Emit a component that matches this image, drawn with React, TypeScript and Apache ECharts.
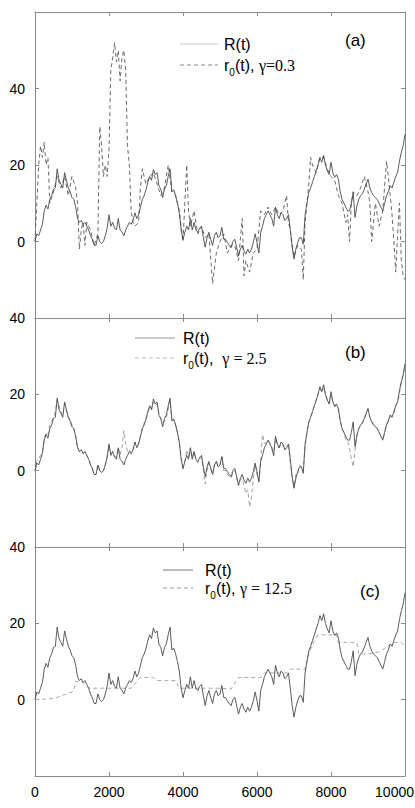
import React, { useEffect, useRef } from "react";
import * as echarts from "echarts";

// x grid for R(t) and r0(t) with gamma = 2.5 (t = 0, 50, ..., 10000)
const tGrid: number[] = Array.from({ length: 201 }, (_, i) => i * 50);

const R: number[] = [
  0, 2, 1.5, 3, 4.5, 8, 9.5, 8.5, 11, 12,
  13.7, 14, 19, 16, 15, 14, 18, 16, 14, 13,
  11.5, 11, 9, 6, 5, 5.5, 4.5, 5, 4, 3,
  1.5, 0.5, -1, -1, 1.5, 0, -0.5, 0, 1.5, 3.5,
  7, 4, 5, 3.5, 3, 6, 3, 2.5, 1.5, 3,
  4, 5, 4.5, 5.5, 7.5, 6, 7, 9, 11, 12,
  13.5, 15.5, 17, 16, 18.8, 17.5, 18, 14.5, 13.7, 11.5,
  13.7, 14.6, 17, 19, 13, 13.5, 12, 10, 7.5, 3,
  0.5, 2.4, 4, 3, 6, 3, 5, 3, 2.4, 3.5,
  4, 1, -1.5, 1, 2.4, 0.5, -1, 1.5, 2.4, 1,
  1.5, 3.7, 0.6, 0.5, -0.3, -1, -1.6, 0, 0.6, -1.5,
  -3.8, -2, -1, -2.5, -3.3, -2, -3, -2, -0.3, 2,
  -0.3, -3, 2.4, 4, 6, 7, 8, 7, 6, 4,
  9, 7, 6, 7.5, 7, 5.5, 6, 7, 3, -1.5,
  -4.6, -2, -0.3, 1, 1, -0.7, 7, 10, 12.8, 14,
  15.5, 17, 18.5, 20, 22, 20.7, 22.5, 20, 18.5, 17.5,
  20.7, 18, 16.8, 17.5, 16.3, 13, 11, 10, 9, 8,
  8, 10, 12.8, 6.3, 9.3, 11, 12, 12.5, 13.7, 15,
  16.3, 14, 12.8, 12, 11.5, 11, 10, 9, 8, 10,
  12, 13, 14.6, 14, 15.5, 17, 18, 21, 23.3, 25,
  28,
];

const r0B: number[] = [
  0, 2.5, 3, 4, 5, 8.5, 10, 9.5, 12, 13,
  14, 15.5, 18.5, 17, 15.5, 14.5, 17.5, 15.5, 14, 13.5,
  12, 11, 9, 6, 5, 5, 4.5, 5, 4, 3,
  1.5, 0.5, -1, -1, 1.5, 0, -0.5, 0, 1.5, 3.5,
  6.5, 4.5, 5, 4, 3.5, 6, 4, 6, 10.5, 7,
  5, 5.5, 4.5, 5.5, 7.5, 6.5, 7, 9, 11, 12.5,
  13.5, 15, 16.5, 16, 18, 17, 17.5, 15, 13.5, 12.5,
  13, 14, 16, 18.5, 13.5, 13, 12, 10, 7.5, 3.5,
  1, 2.4, 5.5, 3.5, 6, 3.5, 5, 3, 2, 3,
  3.5, 0, -3.5, 0, 2, 0.5, -1, 1.5, 2.5, 1,
  1.5, 3.5, 0, 0, -1, -1.5, -2, -0.5, 0, -2,
  -4, -2.5, -2, -4, -6, -5, -9.5, -7, -2, 1.5,
  -1, -2.5, 3, 9.5, 7, 7.5, 8, 7, 6, 4,
  8.5, 7, 6, 7.5, 7, 5.5, 6, 6.5, 2, -2,
  -4, -1, -1, 1.5, 1, 0, 6.5, 10, 12.5, 14,
  15.5, 17, 18.5, 20, 21.5, 20.5, 22, 20, 18.5, 17.5,
  20, 18, 17, 17, 16, 13, 11, 10, 8, 7.5,
  6, 3, 1, 5.5, 9, 11, 12, 12.5, 13.5, 15,
  16, 14, 13, 12, 11.5, 11, 10, 9, 8.5, 10,
  12, 13, 14, 14.5, 15, 17, 18, 20.5, 23, 25,
  28,
];

// r0(t), gamma = 0.3
const tA: number[] = [
  0, 100, 150, 200, 250, 300, 350, 400, 500, 600, 700, 800, 900, 1000, 1100, 1150,
  1200, 1250, 1300, 1350, 1400, 1500, 1600, 1700, 1750, 1800, 1850, 1900, 1950, 2000,
  2050, 2100, 2150, 2200, 2250, 2300, 2350, 2400, 2450, 2500, 2550, 2600, 2650, 2700,
  2800, 2850, 2900, 3000, 3100, 3200, 3300, 3400, 3500, 3600, 3700, 3800, 3900, 4000,
  4100, 4150, 4200, 4300, 4400, 4500, 4600, 4700, 4800, 4900, 5000, 5100, 5200, 5300,
  5400, 5500, 5600, 5650, 5700, 5800, 5900, 6000, 6050, 6100, 6200, 6300, 6400, 6500,
  6600, 6700, 6800, 6850, 6900, 7000, 7100, 7200, 7250, 7300, 7400, 7450, 7500, 7600,
  7700, 7800, 7900, 8000, 8100, 8200, 8300, 8400, 8450, 8500, 8550, 8600, 8700, 8800,
  8900, 9000, 9050, 9100, 9150, 9200, 9300, 9400, 9500, 9550, 9600, 9650, 9700, 9750,
  9800, 9850, 9900, 9950, 10000,
];
const r0A: number[] = [
  0, 20, 25, 22, 26, 20, 22, 10, 13, 17, 14, 17, 12, 17, 14, 10,
  -2, 3, 5, -1, 5, 3, -1, 2, 30, 25, 17, 20, 17, 24,
  45, 48, 52, 47, 50, 42, 48, 50, 45, 25, 20, 8, 5, 4,
  5, 14, 19, 15, 17, 18, 15, 12, 14, 20, 13, 12, 8, 0,
  20, 8, 4, 8, 2, 4, 1, 2, -11, -3, 0, 2, -3, -1,
  -1, -5, 6, -9, -5, -8, -3, -2, 3, 8, 7, 9, 7, 9,
  7, 8, 12, 5, 3, -4, -1, -2, -10, 5, 15, 22, 20, 18,
  22, 22, 19, 17, 16, 12, 10, 5, 7, 0, 10, 13, 12, 14,
  17, 13, 10, 0, 5, 10, 4, 8, 21, 17, 12, 7, 0, -8,
  2, 10, -5, -9, -10,
];

// r0(t), gamma = 12.5
const tC: number[] = [
  0, 500, 1000, 1050, 1100, 1300, 1450, 2600, 2850, 3200, 3300, 3800, 3900, 4500, 5000,
  5300, 5500, 6100, 6200, 6800, 6900, 7300, 7400, 7500, 7650, 8150, 8200, 8700, 8750,
  9000, 9300, 9700, 9900, 10000,
];
const r0C: number[] = [
  0, 0.3, 2, 2.4, 4.8, 4.5, 3, 3, 5.8, 5.8, 5, 5, 3, 3, 3,
  2.8, 5.8, 5.8, 7, 7, 8, 8, 12, 14.5, 17, 17, 15, 15, 12,
  12, 12.5, 15, 15, 14,
];

const xTicks = [0, 2000, 4000, 6000, 8000];
const xEndLabel = "10000";
const yLabelsShown = [0, 20, 40];

const panelLabels = ["(a)", "(b)", "(c)"];
const gammaTexts = ["γ=0.3", "γ = 2.5", "γ = 12.5"];
const r0Prefix = ["(t), ", "(t),  ", "(t), "];

const zip = (t: number[], v: number[]) => t.map((x, i) => [x, v[i]]);

export default function App() {
  const ref = useRef<HTMLDivElement>(null);
  useEffect(() => {
    if (!ref.current) return;
    const chart = echarts.init(ref.current, null, { renderer: "svg" });
    const L = 35;
    const RIGHT = 10;
    const tops = [12, 318, 547];
    const heights = [306, 229, 229];
    const yMin = [-20, -20, -20];
    const yMax = [60, 40, 40];
    const axisColor = "#8a8a8a";
    const font = "Liberation Sans, Arial, sans-serif";

    const grid = tops.map((t, i) => ({ left: L, right: RIGHT, top: t, height: heights[i] }));
    const xAxis: any[] = [];
    const yAxis: any[] = [];
    for (let i = 0; i < 3; i++) {
      for (const pos of ["bottom", "top"]) {
        xAxis.push({
          gridIndex: i,
          type: "value",
          position: pos,
          min: 0,
          max: 10000,
          interval: 2000,
          axisLine: { show: true, onZero: false, lineStyle: { color: axisColor, width: 1 } },
          axisTick: { show: true, inside: true, length: 4, lineStyle: { color: axisColor } },
          splitLine: { show: false },
          axisLabel: {
            show: i === 2 && pos === "bottom",
            color: "#000",
            fontFamily: font,
            fontSize: 14,
            margin: 9,
            formatter: (v: number) => (xTicks.includes(v) ? String(v) : ""),
          },
        });
      }
      for (const pos of ["left", "right"]) {
        yAxis.push({
          gridIndex: i,
          type: "value",
          position: pos,
          min: yMin[i],
          max: yMax[i],
          interval: 20,
          axisLine: { show: true, onZero: false, lineStyle: { color: axisColor, width: 1 } },
          axisTick: { show: true, inside: true, length: 4, lineStyle: { color: axisColor } },
          splitLine: { show: false },
          axisLabel: {
            show: pos === "left",
            color: "#000",
            fontFamily: font,
            fontSize: 14,
            margin: 10,
            formatter: (v: number) => (yLabelsShown.includes(v) ? String(v) : ""),
          },
        });
      }
    }

    const r0Data = [zip(tA, r0A), zip(tGrid, r0B), zip(tC, r0C)];
    const r0Colors = ["#6a6a6a", "#a0a0a0", "#a8a8a8"];
    const series: any[] = [];
    for (let i = 0; i < 3; i++) {
      series.push({
        type: "line",
        name: "r0",
        xAxisIndex: i * 2,
        yAxisIndex: i * 2,
        data: r0Data[i],
        showSymbol: false,
        symbol: "none",
        lineStyle: { color: r0Colors[i], width: 1, type: [4, 3] },
        z: 2,
      });
      series.push({
        type: "line",
        name: "R",
        xAxisIndex: i * 2,
        yAxisIndex: i * 2,
        data: zip(tGrid, R),
        showSymbol: false,
        symbol: "none",
        lineStyle: { color: "#4a4a4a", width: 0.9 },
        z: 3,
      });
    }

    // legends
    const leg = [
      { x1: 180, x2: 218, y1: 44, y2: 65, tx: 224, lx: 345, ly: 40, c1: "#c8c8c8", c2: "#888" },
      { x1: 135, x2: 175, y1: 338, y2: 358, tx: 183, lx: 345, ly: 352, c1: "#999", c2: "#bbb" },
      { x1: 163, x2: 193, y1: 570, y2: 588, tx: 205, lx: 360, ly: 591, c1: "#777", c2: "#999" },
    ];
    const graphic: any[] = [];
    leg.forEach((g, i) => {
      graphic.push({
        type: "line",
        shape: { x1: g.x1, y1: g.y1, x2: g.x2, y2: g.y1 },
        style: { stroke: g.c1, lineWidth: 1 },
      });
      graphic.push({
        type: "line",
        shape: { x1: g.x1, y1: g.y2, x2: g.x2, y2: g.y2 },
        style: { stroke: g.c2, lineWidth: 1, lineDash: [4, 3] },
      });
      graphic.push({
        type: "text",
        x: g.tx,
        y: g.y1,
        style: { text: "R(t)", font: `16px ${font}`, fill: "#000", verticalAlign: "middle" },
      });
      graphic.push({
        type: "text",
        x: g.tx,
        y: g.y2,
        style: {
          text: `{s|r}{sub|0}{s|${r0Prefix[i]}}{g|${gammaTexts[i]}}`,
          verticalAlign: "middle",
          rich: {
            s: { fontFamily: font, fontSize: 16, fill: "#000", lineHeight: 18, verticalAlign: "middle" },
            sub: { fontFamily: font, fontSize: 10, fill: "#000", lineHeight: 10, verticalAlign: "bottom", padding: [0, 0, -3, 0] },
            g: { fontFamily: "Liberation Serif, Times New Roman, serif", fontSize: 16, fill: "#000", lineHeight: 18, verticalAlign: "middle" },
          },
        },
      });
      graphic.push({
        type: "text",
        x: g.lx,
        y: g.ly,
        style: { text: panelLabels[i], font: `17px ${font}`, fill: "#000", verticalAlign: "middle" },
      });
    });
    // last x tick label at the right end of the axis, kept inside the page
    graphic.push({
      type: "text",
      x: 414,
      y: 785,
      style: { text: xEndLabel, font: `14px ${font}`, fill: "#000", align: "right", verticalAlign: "top" },
    });

    chart.setOption({
      animation: false,
      backgroundColor: "#fff",
      grid,
      xAxis,
      yAxis,
      series,
      graphic,
    });
    return () => chart.dispose();
  }, []);
  return <div ref={ref} style={{ position: "absolute", left: 0, top: 0, width: 415, height: 808, overflow: "hidden" }} />;
}
